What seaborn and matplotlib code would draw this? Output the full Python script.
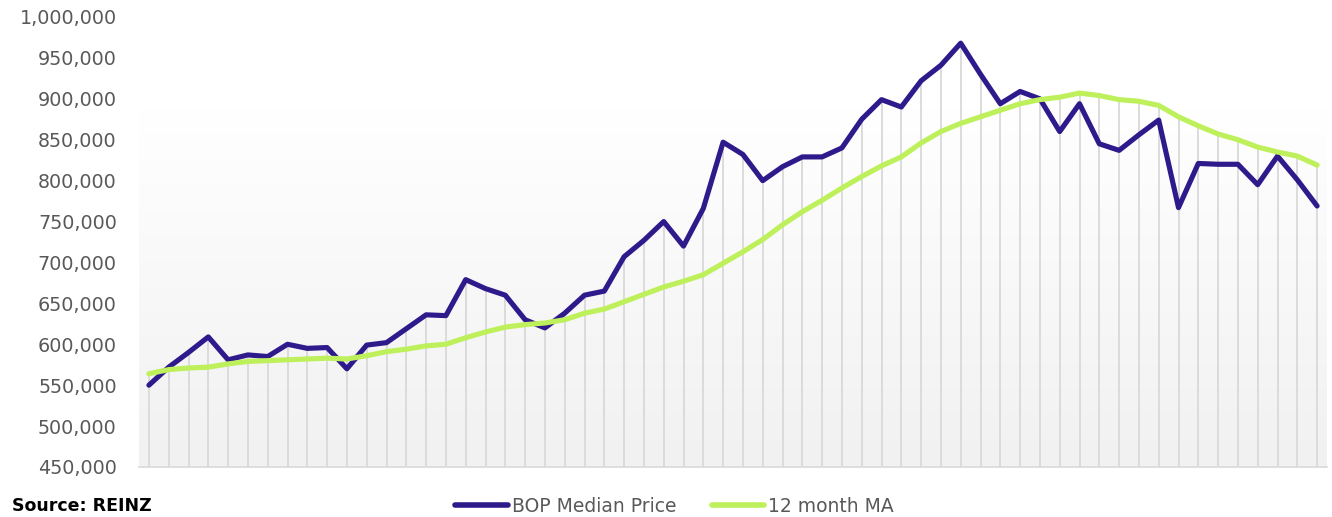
import numpy as np
import pandas as pd
import seaborn as sns
import matplotlib.pyplot as plt
from matplotlib.ticker import FuncFormatter

# monthly values (60 months)
bop_median = [550000, 572000, 590000, 609000, 581000, 587000, 585000, 600000, 595000, 596000,
              570000, 599000, 602000, 619000, 636000, 635000, 679000, 668000, 660000, 630000,
              620000, 638000, 660000, 665000, 707000, 727000, 750000, 720000, 766000, 847000,
              832000, 800000, 817000, 829000, 829000, 840000, 875000, 899000, 890000, 922000,
              941000, 968000, 930000, 894000, 909000, 900000, 860000, 894000, 845000, 837000,
              856000, 874000, 767000, 821000, 820000, 820000, 795000, 830000, 801000, 769000]
ma_12 = [564000, 569000, 571000, 572000, 576000, 579000, 580000, 581000, 582000, 583000,
         582000, 586000, 591000, 594000, 598000, 600000, 608000, 615000, 621000, 624000,
         626000, 630000, 638000, 643000, 652000, 661000, 670000, 677000, 685000, 699000,
         713000, 728000, 746000, 762000, 776000, 791000, 805000, 818000, 829000, 846000,
         860000, 870000, 878000, 886000, 894000, 899000, 902000, 907000, 904000, 899000,
         897000, 892000, 878000, 867000, 857000, 850000, 841000, 835000, 830000, 819000]
series_names = ['BOP Median Price', '12 month MA']
yticks = list(range(450000, 1000001, 50000))

df = pd.DataFrame({'month': np.arange(len(bop_median)),
                   series_names[0]: bop_median,
                   series_names[1]: ma_12})
dflong = df.melt(id_vars='month', var_name='series', value_name='price')

sns.set_style('white')
plt.rcParams['font.family'] = ['DejaVu Sans']

fig = plt.figure(figsize=(13.32, 5.17), dpi=100)
ax = fig.add_axes([139 / 1332, 1 - 467 / 517, (1327 - 139) / 1332, (467 - 17) / 517])

n = len(df)
ax.set_xlim(-0.5, n - 0.5)
ax.set_ylim(450000, 1000000)

# soft vertical gradient behind the plot, white in the top part
grad = np.clip(np.linspace(1.25, 0, 256), 0, 1).reshape(-1, 1)
ax.imshow(grad, cmap=sns.blend_palette(['#f1f1f1', '#ffffff'], as_cmap=True),
          extent=[-0.5, n - 0.5, 450000, 1000000], aspect='auto', zorder=0, vmin=0, vmax=1)

# drop lines from the top of each month down to the axis
tops = np.maximum(df[series_names[0]], df[series_names[1]])
ax.vlines(df['month'], 450000, tops, color='#d9d9d9', lw=1.3, zorder=1)

sns.lineplot(data=dflong, x='month', y='price', hue='series',
             palette=['#2f1a8c', '#bdf05a'], linewidth=3.7, ax=ax, zorder=3,
             legend=False)

ax.set_xticks(np.arange(-0.5, n, 1))
ax.set_xticklabels([])
ax.tick_params(axis='x', length=5, width=1, color='#d9d9d9', direction='out')
ax.set_yticks(yticks)
ax.yaxis.set_major_formatter(FuncFormatter(lambda v, p: f'{int(v):,}'))
ax.tick_params(axis='y', length=0, pad=16, labelsize=13.8, labelcolor='#595959')
ax.set_xlabel('')
ax.set_ylabel('')
for s in ['top', 'right', 'left']:
    ax.spines[s].set_visible(False)
ax.spines['bottom'].set_color('#d9d9d9')
ax.spines['bottom'].set_linewidth(1.2)

handles = [plt.Line2D([], [], color='#2f1a8c', lw=4, solid_capstyle='round'),
           plt.Line2D([], [], color='#bdf05a', lw=4, solid_capstyle='round')]
leg = fig.legend(handles, series_names, loc='center', bbox_to_anchor=(0.5065, 0.021),
                 ncol=2, frameon=False, fontsize=13.5, handlelength=2.8,
                 handletextpad=0.2, columnspacing=1.9)
for t in leg.get_texts():
    t.set_color('#595959')

fig.text(0.009, 0.021, 'Source: REINZ', fontsize=12.5, fontweight='bold',
         color='black', va='center', ha='left')

fig.savefig('out.png', dpi=100)
